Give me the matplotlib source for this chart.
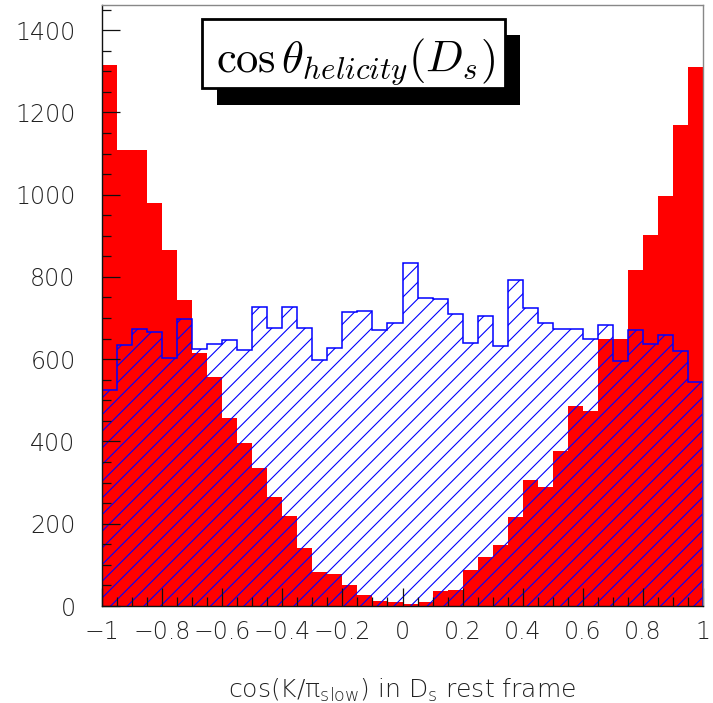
import numpy as np
import matplotlib
matplotlib.use("Agg")
import matplotlib.pyplot as plt
from matplotlib.patches import Rectangle
from matplotlib.ticker import MultipleLocator

# ---- data (40 bins from -1 to 1) ----
bin_edges = np.linspace(-1, 1, 41)
red_counts = [1314, 1108, 1108, 980, 866, 743, 614, 557, 457, 396,
              336, 266, 220, 142, 83, 79, 51, 27, 12, 9,
              5, 9, 36, 40, 88, 118, 148, 216, 307, 289,
              377, 485, 474, 648, 649, 817, 902, 997, 1170, 1310]
blue_counts = [526, 634, 674, 665, 603, 698, 625, 638, 647, 622,
               726, 676, 728, 677, 599, 628, 715, 717, 670, 687,
               835, 748, 746, 711, 639, 706, 631, 793, 725, 687,
               673, 673, 648, 684, 596, 670, 637, 658, 620, 545]
xtick_vals = [-1, -0.8, -0.6, -0.4, -0.2, 0, 0.2, 0.4, 0.6, 0.8, 1]
xtick_labels = ["\u22121", "\u22120.8", "\u22120.6", "\u22120.4", "\u22120.2",
                "0", "0.2", "0.4", "0.6", "0.8", "1"]
ytick_vals = [0, 200, 400, 600, 800, 1000, 1200, 1400]
title_text = r"$\cos\theta_{helicity}(D_s)$"
xlabel_text = "cos(K/$\\mathrm{\u03c0}_{\\mathrm{slow}}$) in D$_{\\mathrm{s}}$ rest frame"

plt.rcParams['font.family'] = ['DejaVu Sans']
plt.rcParams['font.weight'] = 'light'
plt.rcParams['hatch.linewidth'] = 0.8
plt.rcParams['mathtext.fontset'] = 'custom'
plt.rcParams['mathtext.rm'] = 'DejaVu Sans:light'
plt.rcParams['mathtext.it'] = 'DejaVu Sans:light'
plt.rcParams['mathtext.bf'] = 'DejaVu Sans'

W, H = 713, 703
fig = plt.figure(figsize=(W / 100, H / 100), dpi=100)
ax = fig.add_axes([102 / W, (H - 606) / H, (703 - 102) / W, (606 - 5) / H])

ax.stairs(red_counts, bin_edges, fill=True, color="#ff0000", linewidth=0)
ax.stairs(blue_counts, bin_edges, fill=True, facecolor="none",
          edgecolor="#0000ff", hatch="//", linewidth=1.1)

ax.set_xlim(-1, 1)
ax.set_ylim(0, 1461)

ax.set_xticks(xtick_vals)
ax.set_xticklabels(xtick_labels)
ax.set_yticks(ytick_vals)
ax.xaxis.set_minor_locator(MultipleLocator(0.05))
ax.yaxis.set_minor_locator(MultipleLocator(50))
ax.tick_params(axis="both", which="both", direction="in", top=False, right=False,
               colors="#111111", labelcolor="#222222")
ax.tick_params(axis="both", which="major", length=13, width=0.9)
ax.tick_params(axis="both", which="minor", length=6.5, width=0.9)
ax.tick_params(axis="x", which="major", labelsize=17, pad=10)
ax.tick_params(axis="y", which="major", labelsize=17, pad=19)
for s in ax.spines.values():
    s.set_color("#111111")
    s.set_linewidth(1.0)
ax.spines["top"].set_color("#888888")
ax.spines["right"].set_color("#888888")

fig.text(402 / W, 1 - 690 / H, xlabel_text, fontsize=18,
         ha="center", va="center", color="#222222")

# title box with drop shadow (figure pixel coordinates)
def px_rect(x0, y0, x1, y1, **kw):
    return Rectangle((x0 / W, 1 - y1 / H), (x1 - x0) / W, (y1 - y0) / H,
                     transform=fig.transFigure, **kw)

fig.add_artist(px_rect(217, 35, 520, 105, facecolor="black", edgecolor="none", zorder=10))
fig.add_artist(px_rect(202, 19, 505, 88, facecolor="white", edgecolor="black",
                       linewidth=2, zorder=11))
fig.text(355 / W, 1 - 71 / H, title_text, fontsize=32,
         ha="center", va="baseline", zorder=12, math_fontfamily="cm")

fig.savefig("out.png", dpi=100)
